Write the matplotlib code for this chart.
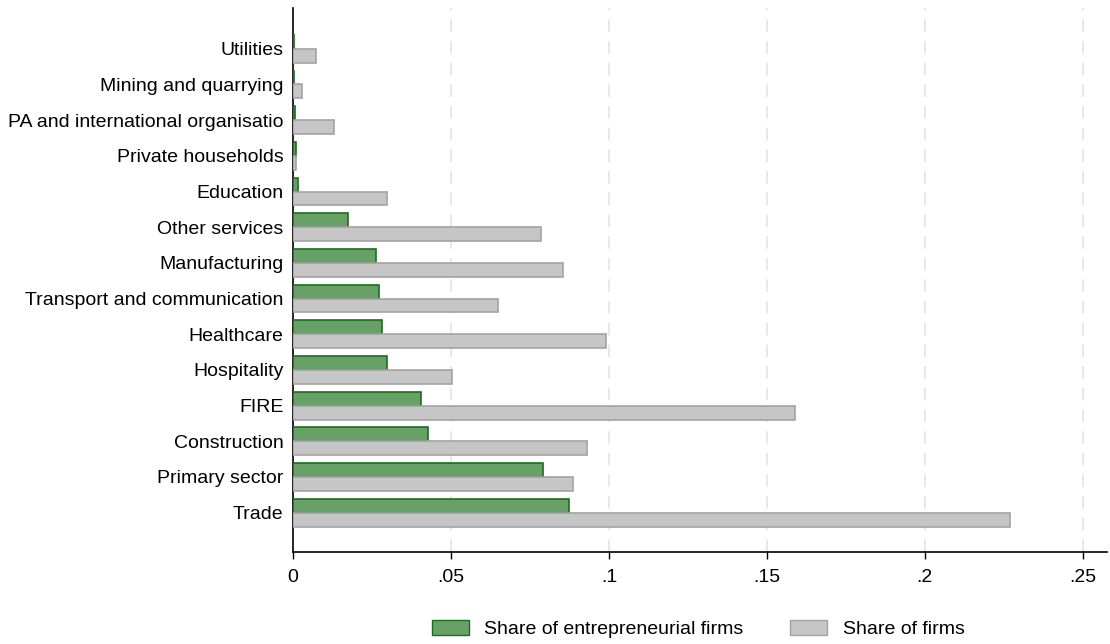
import matplotlib
matplotlib.use("Agg")
import matplotlib.pyplot as plt
from matplotlib.patches import Patch
import numpy as np

plt.rcParams['font.family'] = ['Liberation Sans', 'DejaVu Sans']

categories = ["Trade", "Primary sector", "Construction", "FIRE", "Hospitality",
              "Healthcare", "Transport and communication", "Manufacturing",
              "Other services", "Education", "Private households",
              "PA and international organisatio", "Mining and quarrying", "Utilities"]
share_entrepreneurial = [0.0873, 0.0791, 0.0427, 0.0405, 0.0297, 0.0282, 0.0272,
                         0.0263, 0.0174, 0.0016, 0.0009, 0.0005, 0.0003, 0.0003]
share_firms = [0.2269, 0.0886, 0.0930, 0.1589, 0.0503, 0.0991, 0.0649, 0.0854,
               0.0785, 0.0297, 0.0009, 0.0130, 0.0028, 0.0073]
xticks = [0, 0.05, 0.1, 0.15, 0.2, 0.25]
xtick_labels = ["0", ".05", ".1", ".15", ".2", ".25"]

fig = plt.figure(figsize=(11.1, 6.44), dpi=100)
ax = fig.add_axes([0.264, 0.143, 0.733, 0.845])

y = np.arange(len(categories))
h = 0.39
green_fc, green_ec = "#67a167", "#1b6e1b"
gray_fc, gray_ec = "#c6c6c6", "#a3a3a3"
ax.barh(y + h / 2, share_entrepreneurial, height=h, color=green_fc,
        edgecolor=green_ec, linewidth=1.2, zorder=3)
ax.barh(y - h / 2, share_firms, height=h, color=gray_fc,
        edgecolor=gray_ec, linewidth=1.2, zorder=3)

ax.set_xlim(0, 0.2576)
ax.set_ylim(-1.1, len(categories) - 1 + 1.15)
ax.set_yticks(y)
ax.set_yticklabels(categories, fontsize=14)
ax.tick_params(axis='y', length=0, pad=7)
ax.set_xticks(xticks)
ax.set_xticklabels(xtick_labels, fontsize=14)
ax.tick_params(axis='x', length=5, width=1, pad=7)
for xv in xticks[1:]:
    ax.axvline(xv, color="#e6e6e6", linestyle=(0, (7, 5)), linewidth=1.3, zorder=0)
for s in ["top", "right"]:
    ax.spines[s].set_visible(False)
for s in ["left", "bottom"]:
    ax.spines[s].set_linewidth(1.2)

handles = [Patch(facecolor=green_fc, edgecolor=green_ec, label="Share of entrepreneurial firms"),
           Patch(facecolor=gray_fc, edgecolor=gray_ec, label="Share of firms")]
fig.legend(handles=handles, loc="center", bbox_to_anchor=(0.629, 0.023), ncol=2,
           frameon=False, fontsize=14, handlelength=1.9, handleheight=0.85,
           handletextpad=0.8, columnspacing=2.4)

fig.savefig("out.png", dpi=100)
